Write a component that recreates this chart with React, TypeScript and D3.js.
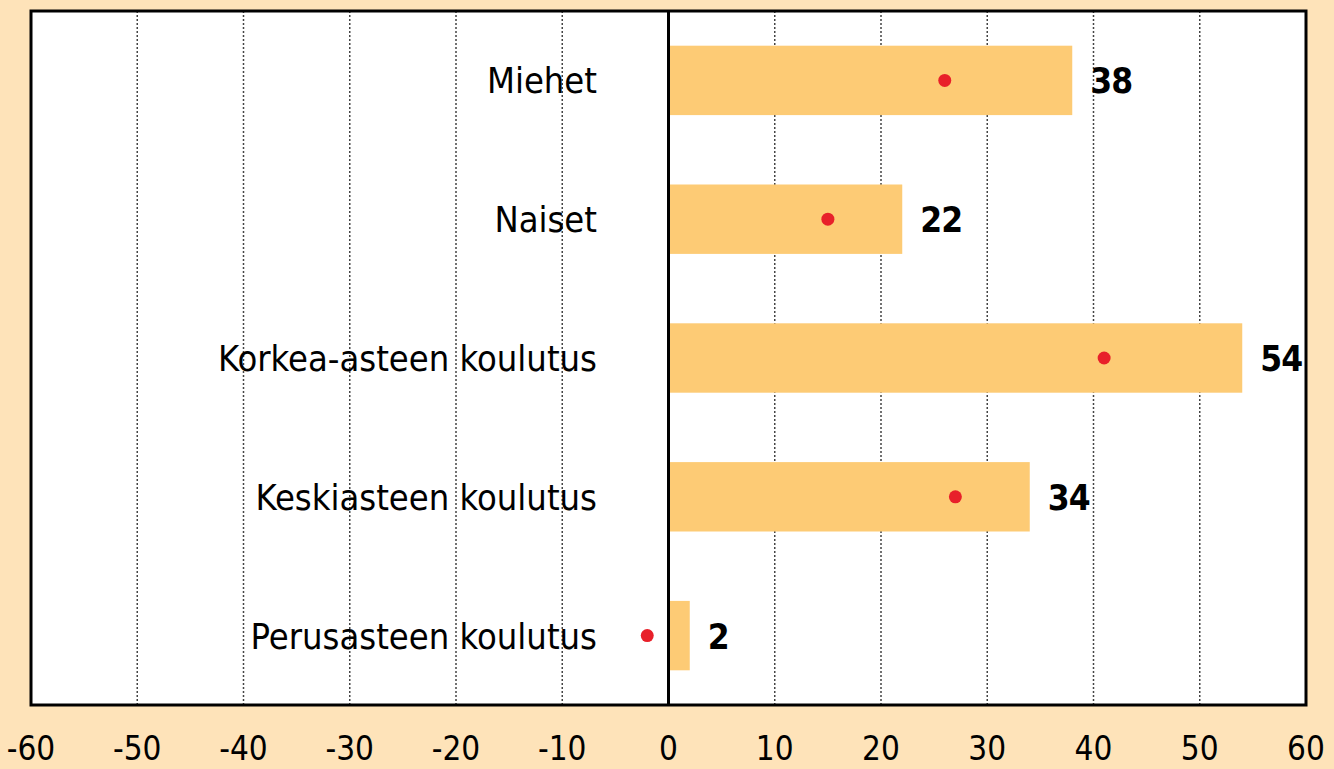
import React, { useEffect, useRef } from 'react';
import * as d3 from 'd3';

// categories, bar values and red marker values
const categories = ['Miehet', 'Naiset', 'Korkea-asteen koulutus', 'Keskiasteen koulutus', 'Perusasteen koulutus'];
const barValues = [38, 22, 54, 34, 2];
const dotValues = [26, 15, 41, 27, -2];
const tickValues = [-60, -50, -40, -30, -20, -10, 0, 10, 20, 30, 40, 50, 60];

const FONT = "'DejaVu Sans Condensed', 'DejaVu Sans', Arial, sans-serif";

function App() {
    const chartRef = useRef<HTMLDivElement>(null);

    useEffect(() => {
        const width = 1334,
            height = 769;
        const left = 31, right = 1306, top = 11, bottom = 705;

        d3.select(chartRef.current).select('svg').remove();

        const svg = d3.select(chartRef.current)
            .append('svg')
            .attr('width', width)
            .attr('height', height)
            .style('display', 'block');

        // peach background
        svg.append('rect')
            .attr('width', width)
            .attr('height', height)
            .attr('fill', '#fee3b9');

        const x = d3.scaleLinear().domain([-60, 60]).range([left, right]);
        const y = d3.scaleBand<string>()
            .domain(categories)
            .range([top, bottom])
            .paddingInner(0.5)
            .paddingOuter(0.25);

        // plot area
        svg.append('rect')
            .attr('x', left)
            .attr('y', top)
            .attr('width', right - left)
            .attr('height', bottom - top)
            .attr('fill', '#ffffff');

        // dotted grid
        svg.selectAll('.grid')
            .data(tickValues.filter(d => d !== 0 && Math.abs(d) !== 60))
            .enter().append('line')
            .attr('x1', d => x(d))
            .attr('x2', d => x(d))
            .attr('y1', top)
            .attr('y2', bottom)
            .attr('stroke', '#444')
            .attr('stroke-width', 1.5)
            .attr('stroke-dasharray', '2,2');

        // bars
        svg.selectAll('.bar')
            .data(categories)
            .enter().append('rect')
            .attr('x', x(0))
            .attr('y', d => y(d)!)
            .attr('width', (d, i) => x(barValues[i]) - x(0))
            .attr('height', y.bandwidth())
            .attr('fill', '#fdcb75');

        // zero line
        svg.append('line')
            .attr('x1', x(0))
            .attr('x2', x(0))
            .attr('y1', top)
            .attr('y2', bottom)
            .attr('stroke', '#000')
            .attr('stroke-width', 3);

        // frame
        svg.append('rect')
            .attr('x', left)
            .attr('y', top)
            .attr('width', right - left)
            .attr('height', bottom - top)
            .attr('fill', 'none')
            .attr('stroke', '#000')
            .attr('stroke-width', 3);

        // red markers
        svg.selectAll('.dot')
            .data(categories)
            .enter().append('circle')
            .attr('cx', (d, i) => x(dotValues[i]))
            .attr('cy', d => y(d)! + y.bandwidth() / 2)
            .attr('r', 6.5)
            .attr('fill', '#e8202a');

        // category labels
        svg.selectAll('.cat')
            .data(categories)
            .enter().append('text')
            .attr('x', 597)
            .attr('y', d => y(d)! + y.bandwidth() / 2 + 13)
            .attr('text-anchor', 'end')
            .style('font-family', FONT)
            .style('font-stretch', 'condensed')
            .style('font-size', '36px')
            .attr('fill', '#000')
            .text(d => d);

        // value labels
        svg.selectAll('.val')
            .data(categories)
            .enter().append('text')
            .attr('x', (d, i) => x(barValues[i]) + 18)
            .attr('y', d => y(d)! + y.bandwidth() / 2 + 13)
            .style('font-family', FONT)
            .style('font-stretch', 'condensed')
            .style('font-size', '35px')
            .style('font-weight', 'bold')
            .style('letter-spacing', '-1px')
            .attr('fill', '#000')
            .text((d, i) => barValues[i]);

        // x tick labels
        svg.selectAll('.tick')
            .data(tickValues)
            .enter().append('text')
            .attr('x', d => x(d))
            .attr('y', 760)
            .attr('text-anchor', 'middle')
            .style('font-family', FONT)
            .style('font-stretch', 'condensed')
            .style('font-size', '33px')
            .attr('fill', '#000')
            .text(d => d);
    }, []);

    return (
        <div style={{ position: 'absolute', left: 0, top: 0 }}>
            <div ref={chartRef}></div>
        </div>
    );
}

export default App;
